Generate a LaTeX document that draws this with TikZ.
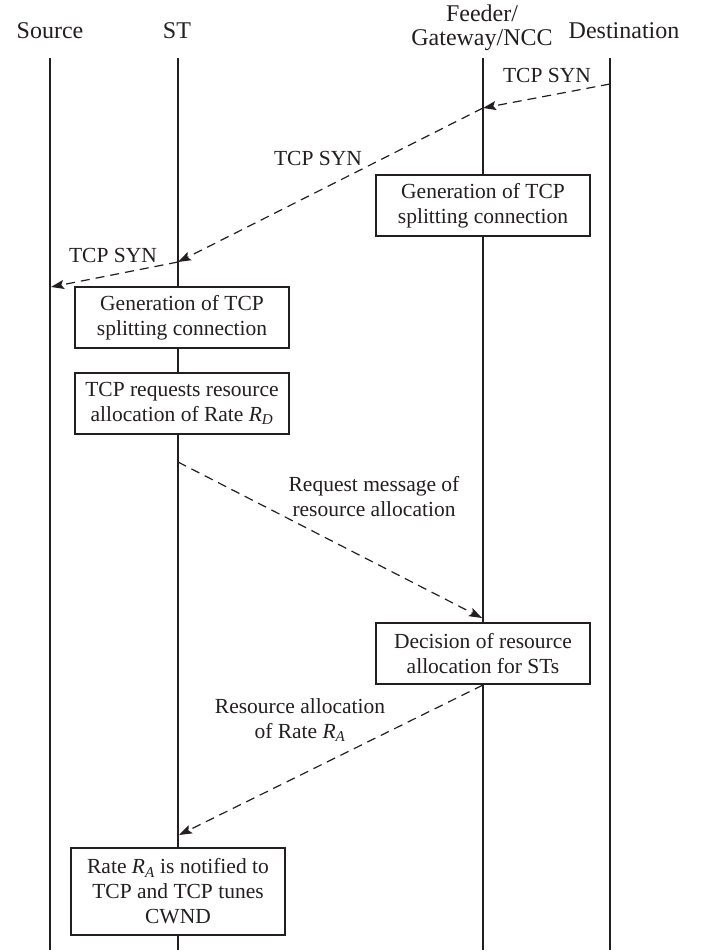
\documentclass[tikz,border=0pt]{standalone}
\usepackage{fontspec}
\setmainfont{Liberation Serif}
\usetikzlibrary{arrows.meta}
\definecolor{linecol}{HTML}{231F20}
\newcommand{\rsub}[1]{\textit{R}\textsubscript{\textit{#1}}}
\begin{document}
\begin{tikzpicture}[x=1pt,y=-1pt,
  font=\fontsize{21.5}{25}\selectfont,
  life/.style={line width=2.2pt, draw=linecol},
  box/.style={draw=linecol, line width=1.3pt, fill=white, align=center, inner sep=0pt, minimum height=61pt, minimum width=214pt, text=linecol},
  msg/.style={draw=linecol, line width=1.2pt, dash pattern=on 9pt off 6pt, -{Stealth[length=13pt,width=9pt,inset=2.5pt]}},
  lbl/.style={align=center, inner sep=0pt, text=linecol},
  hdr/.style={lbl, font=\fontsize{24}{24}\selectfont}]
\useasboundingbox (0,0) rectangle (716,952);
\fill[white] (0,0) rectangle (716,952);
% headers
\node[hdr] (hsrc) at (50,31) {Source};
\node[hdr] (hst) at (177,31) {ST};
\node[hdr] (hfd) at (482,28) {Feeder/\\Gateway/NCC};
\node[hdr] (hdst) at (624,31) {Destination};
% lifelines
\coordinate (srcT) at (50,58);  \coordinate (srcB) at (50,950);
\coordinate (stT) at (178,58);  \coordinate (stB) at (178,950);
\coordinate (fdT) at (483,58);  \coordinate (fdB) at (483,950);
\coordinate (dsT) at (610,58);  \coordinate (dsB) at (610,950);
\draw[life] (srcT) -- (srcB);
\draw[life] (stT) -- (stB);
\draw[life] (fdT) -- (fdB);
\draw[life] (dsT) -- (dsB);
% boxes
\node[box] (b1) at (483,205.5) {Generation of TCP\\splitting connection};
\node[box] (b2) at (182,317.5) {Generation of TCP\\splitting connection};
\node[box] (b3) at (182,403.5) {TCP requests resource\\allocation of Rate \rsub{D}};
\node[box] (b4) at (483,653.5) {Decision of resource\\allocation for STs};
\node[box, minimum height=87pt] (b5) at (178,891.5) {Rate \rsub{A} is notified to\\TCP and TCP tunes\\CWND};
% message points
\coordinate (m1s) at (610,84);
\coordinate (m1e) at (483,108);
\coordinate (m2e) at (178,262);
\coordinate (m3e) at (51,287);
\coordinate (m4s) at (178,462);
\coordinate (m4e) at (482,618);
\coordinate (m5s) at (483,685);
\coordinate (m5e) at (179,835);
\draw[msg] (m1s) -- (m1e);
\draw[msg] (m1e) -- (m2e);
\draw[msg] (m2e) -- (m3e);
\draw[msg] (m4s) -- (m4e);
\draw[msg] (m5s) -- (m5e);
% labels
\node[lbl] (l1) at (547,75) {TCP SYN};
\node[lbl] (l2) at (318,158) {TCP SYN};
\node[lbl] (l3) at (113,255) {TCP SYN};
\node[lbl] (l4) at (374,497) {Request message of\\resource allocation};
\node[lbl] (l5) at (300,720) {Resource allocation\\of Rate \rsub{A}};
\end{tikzpicture}
\end{document}
